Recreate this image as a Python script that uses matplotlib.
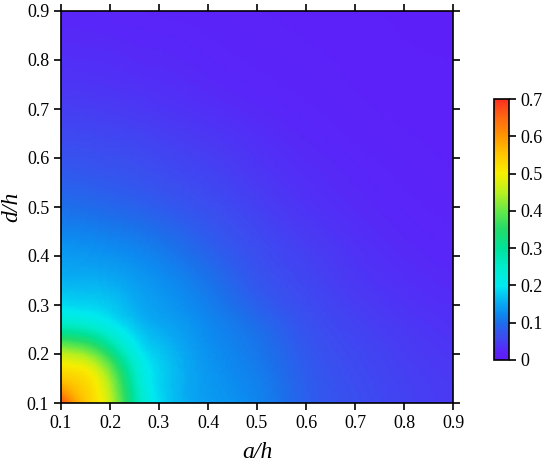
import numpy as np
import matplotlib
matplotlib.use("Agg")
import matplotlib.pyplot as plt
import matplotlib.tri as mtri
from matplotlib.colors import LinearSegmentedColormap

plt.rcParams['font.family'] = ['Liberation Serif', 'DejaVu Serif']

# grid coordinates
a_h = [0.1, 0.15, 0.2, 0.25, 0.3, 0.4, 0.5, 0.6, 0.7, 0.8, 0.9]
d_h = [0.1, 0.15, 0.2, 0.25, 0.3, 0.4, 0.5, 0.6, 0.7, 0.8, 0.9]

# values (rows: d/h, columns: a/h)
row_d010 = [0.68, 0.55, 0.46, 0.29, 0.19, 0.14, 0.12, 0.085, 0.065, 0.052, 0.045]
row_d015 = [0.55, 0.52, 0.43, 0.27, 0.185, 0.137, 0.115, 0.082, 0.062, 0.05, 0.043]
row_d020 = [0.46, 0.43, 0.34, 0.225, 0.175, 0.132, 0.108, 0.077, 0.058, 0.047, 0.04]
row_d025 = [0.29, 0.27, 0.225, 0.18, 0.155, 0.125, 0.10, 0.07, 0.053, 0.043, 0.036]
row_d030 = [0.19, 0.185, 0.175, 0.155, 0.14, 0.115, 0.085, 0.062, 0.047, 0.038, 0.032]
row_d040 = [0.14, 0.137, 0.132, 0.125, 0.115, 0.09, 0.065, 0.05, 0.038, 0.03, 0.025]
row_d050 = [0.10, 0.097, 0.092, 0.087, 0.08, 0.065, 0.05, 0.038, 0.03, 0.024, 0.02]
row_d060 = [0.07, 0.068, 0.065, 0.062, 0.057, 0.048, 0.038, 0.03, 0.024, 0.019, 0.016]
row_d070 = [0.048, 0.047, 0.045, 0.043, 0.04, 0.034, 0.028, 0.023, 0.018, 0.015, 0.013]
row_d080 = [0.034, 0.033, 0.032, 0.03, 0.029, 0.025, 0.021, 0.018, 0.015, 0.012, 0.011]
row_d090 = [0.024, 0.024, 0.023, 0.022, 0.021, 0.019, 0.017, 0.014, 0.012, 0.01, 0.009]

Z = np.array([row_d010, row_d015, row_d020, row_d025, row_d030, row_d040,
              row_d050, row_d060, row_d070, row_d080, row_d090])

cbar_ticks = [0, 0.1, 0.2, 0.3, 0.4, 0.5, 0.6, 0.7]
axis_ticks = [0.1, 0.2, 0.3, 0.4, 0.5, 0.6, 0.7, 0.8, 0.9]

cmap = LinearSegmentedColormap.from_list("rb", [
    (0.0, "#601cf8"),
    (0.025 / 0.7, "#5826f8"),
    (0.05 / 0.7, "#4442f2"),
    (0.075 / 0.7, "#3258ee"),
    (0.1 / 0.7, "#1c70ea"),
    (0.125 / 0.7, "#0c8cf0"),
    (0.15 / 0.7, "#08a8f2"),
    (0.2 / 0.7, "#00eaf0"),
    (0.25 / 0.7, "#00eccc"),
    (0.3 / 0.7, "#00e29a"),
    (0.35 / 0.7, "#22dc6a"),
    (0.4 / 0.7, "#66e848"),
    (0.45 / 0.7, "#b8f020"),
    (0.5 / 0.7, "#f8ee00"),
    (0.55 / 0.7, "#ffc800"),
    (0.6 / 0.7, "#ff9800"),
    (0.65 / 0.7, "#ff6812"),
    (1.0, "#ff3020"),
])

fig = plt.figure(figsize=(5.5, 4.66), dpi=100)
ax = fig.add_axes([61 / 550, 63 / 466, 392 / 550, 392 / 466])
X, Y = np.meshgrid(a_h, d_h)
tri = mtri.Triangulation(X.ravel(), Y.ravel())
refiner = mtri.UniformTriRefiner(tri)
interp = mtri.CubicTriInterpolator(tri, Z.ravel(), kind='min_E')
tri_f, z_f = refiner.refine_field(Z.ravel(), triinterpolator=interp, subdiv=4)
pm = ax.tripcolor(tri_f, np.clip(z_f, 0, 0.7), shading='gouraud', cmap=cmap,
                  vmin=0, vmax=0.7)
ax.set_xlim(0.1, 0.9)
ax.set_ylim(0.1, 0.9)
ax.set_xticks(axis_ticks)
ax.set_yticks(axis_ticks)
ax.set_xticklabels([f"{t:.1f}" for t in axis_ticks])
ax.set_yticklabels([f"{t:.1f}" for t in axis_ticks])
ax.tick_params(direction='out', length=5, width=1.2, labelsize=13,
               top=True, right=True)
for s in ax.spines.values():
    s.set_linewidth(1.2)
ax.set_xlabel("a/h", fontsize=17, style='italic', labelpad=7)
ax.set_ylabel("d/h", fontsize=17, style='italic', labelpad=3)

cax = fig.add_axes([494 / 550, 106 / 466, 15 / 550, 261 / 466])
cb = fig.colorbar(pm, cax=cax, ticks=cbar_ticks)
cb.ax.set_yticklabels(["0", "0.1", "0.2", "0.3", "0.4", "0.5", "0.6", "0.7"])
cb.ax.tick_params(direction='out', length=5, width=1.2, labelsize=13)
cb.outline.set_linewidth(1.2)

fig.savefig("out.png", dpi=100)
